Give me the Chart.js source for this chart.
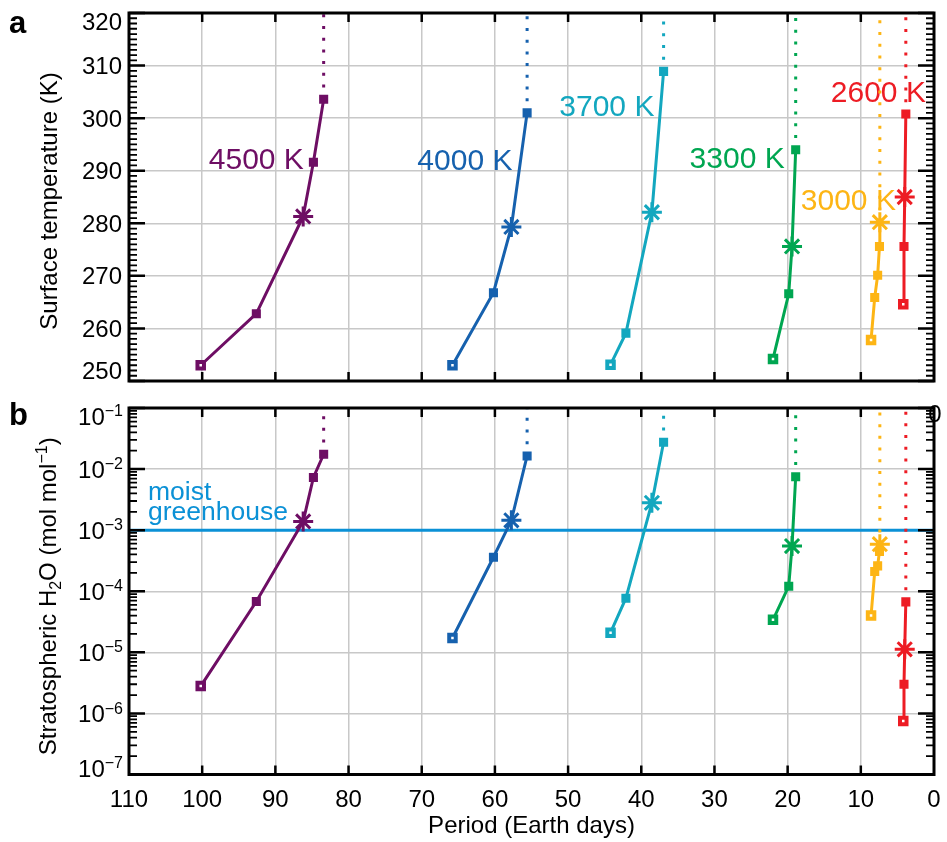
<!DOCTYPE html>
<html>
<head>
<meta charset="utf-8">
<title>Surface temperature and stratospheric H2O vs period</title>
<script src="https://cdn.jsdelivr.net/npm/chart.js@4.4.0/dist/chart.umd.min.js"></script>
<style>
  html, body { margin: 0; padding: 0; background: #ffffff; }
  #wrap { position: relative; width: 947px; height: 842px; }
  .panel { position: absolute; left: 0; width: 947px; }
  #panelA { top: 0; height: 395px; }
  #panelB { top: 395px; height: 447px; }
</style>
</head>
<body>
<div id="wrap">
  <div class="panel" id="panelA"><canvas id="tempChart"></canvas></div>
  <div class="panel" id="panelB"><canvas id="h2oChart"></canvas></div>
</div>
<script>
// ---- data ----
const periodTicks = [110, 100, 90, 80, 70, 60, 50, 40, 30, 20, 10, 0];
const tempTicks = [250, 260, 270, 280, 290, 300, 310, 320];
const h2oExponents = [-7, -6, -5, -4, -3, -2, -1];

// period in Earth days, surface temperature in K, stratospheric H2O in mol/mol
const period4500 = [100.2, 92.6, 86.2, 84.8, 83.4];
const tsurf4500 = [253.0, 262.8, 281.3, 291.6, 303.6];
const h2o4500 = [2.8e-6, 6.8e-5, 1.39e-3, 7.3e-3, 1.75e-2];

const period4000 = [65.8, 60.2, 57.75, 55.6];
const tsurf4000 = [253.0, 266.8, 279.3, 301.0];
const h2o4000 = [1.72e-5, 3.6e-4, 1.45e-3, 1.64e-2];

const period3700 = [44.2, 42.1, 38.55, 36.95];
const tsurf3700 = [253.1, 259.1, 282.1, 308.9];
const h2o3700 = [2.1e-5, 7.7e-5, 2.8e-3, 2.75e-2];

const period3300 = [22.0, 19.85, 19.4, 18.9];
const tsurf3300 = [254.2, 266.6, 275.6, 294.0];
const h2o3300 = [3.4e-5, 1.21e-4, 5.5e-4, 7.5e-3];

const period3000 = [8.6, 8.1, 7.7, 7.45, 7.4];
const tsurf3000 = [257.8, 265.9, 270.1, 275.6, 280.2];
const h2o3000 = [4.0e-5, 2.1e-4, 2.6e-4, 4.5e-4, 5.9e-4];

const period2600 = [4.2, 4.1, 4.0, 3.85];
const tsurf2600 = [264.6, 275.6, 285.0, 300.8];
const h2o2600 = [7.5e-7, 3.0e-6, 1.12e-5, 6.7e-5];

const starNames = ['4500 K', '4000 K', '3700 K', '3300 K', '3000 K', '2600 K'];
const starColors = ['#6e0e64', '#1661ae', '#13a7bf', '#00a651', '#fdb515', '#ed1c24'];
const asteriskIndex = [2, 2, 2, 2, 4, 2];

// where the star-temperature labels sit (period, surface temperature of baseline)
const labelPeriod = [99.1, 70.6, 51.2, 33.4, 18.2, 14.1];
const labelTsurf = [290.4, 290.2, 300.5, 290.6, 282.6, 303.1];

const moistThreshold = 1e-3;
const moistColor = '#0b91d6';

const series = [
  { period: period4500, tsurf: tsurf4500, h2o: h2o4500 },
  { period: period4000, tsurf: tsurf4000, h2o: h2o4000 },
  { period: period3700, tsurf: tsurf3700, h2o: h2o3700 },
  { period: period3300, tsurf: tsurf3300, h2o: h2o3300 },
  { period: period3000, tsurf: tsurf3000, h2o: h2o3000 },
  { period: period2600, tsurf: tsurf2600, h2o: h2o2600 },
].map((s, i) => ({ ...s, name: starNames[i], color: starColors[i], star: asteriskIndex[i] }));

const FONT = "'Liberation Sans', Arial, Helvetica, sans-serif";
const GRID = { color: '#c8c8c8', lineWidth: 1.5, drawTicks: false };

/**
 * Solid line + markers for each star, then a dotted line from the last point to the top
 */
function buildDatasets(key, yTop) {
  const sets = [];
  series.forEach(s => {
    const pts = s.period.map((p, i) => ({ x: p, y: s[key][i] }));
    const last = pts[pts.length - 1];
    sets.push({
      data: pts,
      borderColor: s.color,
      backgroundColor: s.color,
      borderWidth: 3,
      pointStyle: pts.map((_, i) => (i === s.star ? 'star' : 'rect')),
      pointRadius: pts.map((_, i) => (i === s.star ? 10 : i === 0 ? 4.6 : 5)),
      pointBorderWidth: pts.map((_, i) => (i === s.star ? 3 : i === 0 ? 4 : 2)),
      pointBackgroundColor: pts.map((_, i) => (i === 0 ? '#ffffff' : s.color)),
      pointBorderColor: s.color,
      order: 1,
    });
    sets.push({
      data: [last, { x: last.x, y: yTop }],
      borderColor: s.color,
      borderWidth: 3,
      borderDash: [3, 8.7],
      borderCapStyle: 'butt',
      pointRadius: 0,
      order: 2,
    });
  });
  return sets;
}

function xScale(hideHeight) {
  return {
    type: 'linear', min: 0, max: 110, reverse: true,
    ticks: { display: false, stepSize: 10 },
    grid: GRID,
    border: { display: false },
    afterFit: s => { s.height = hideHeight; },
  };
}

function drawFrame(chart, majorY, minorY) {
  const { ctx, chartArea: a, scales: { x, y } } = chart;
  ctx.save();
  ctx.strokeStyle = '#000';
  ctx.lineCap = 'butt';
  ctx.lineWidth = 2.5;
  ctx.beginPath();
  periodTicks.forEach(v => {
    if (v <= 0 || v >= 110) return;
    const px = x.getPixelForValue(v);
    ctx.moveTo(px, a.top); ctx.lineTo(px, a.top + 9);
    ctx.moveTo(px, a.bottom); ctx.lineTo(px, a.bottom - 9);
  });
  majorY.forEach(v => {
    const py = y.getPixelForValue(v);
    ctx.moveTo(a.left, py); ctx.lineTo(a.left + 16, py);
    ctx.moveTo(a.right, py); ctx.lineTo(a.right - 16, py);
  });
  ctx.stroke();
  ctx.lineWidth = 1.8;
  ctx.beginPath();
  minorY.forEach(v => {
    const py = y.getPixelForValue(v);
    ctx.moveTo(a.left, py); ctx.lineTo(a.left + 8, py);
    ctx.moveTo(a.right, py); ctx.lineTo(a.right - 8, py);
  });
  ctx.stroke();
  ctx.lineWidth = 3;
  ctx.strokeRect(a.left, a.top, a.right - a.left, a.bottom - a.top);
  ctx.restore();
}

// ---- panel a: surface temperature ----
const tempMinor = [];
for (let t = 251; t < 320; t++) if (t % 10 !== 0) tempMinor.push(t);

const tempPlugin = {
  id: 'tempDecor',
  beforeDatasetsDraw(chart) {
    const { ctx, scales: { x, y } } = chart;
    ctx.save();
    ctx.font = '30px ' + FONT;
    ctx.textAlign = 'left';
    ctx.textBaseline = 'alphabetic';
    series.forEach((s, i) => {
      ctx.fillStyle = s.color;
      ctx.fillText(s.name, x.getPixelForValue(labelPeriod[i]), y.getPixelForValue(labelTsurf[i]));
    });
    ctx.restore();
  },
  afterDatasetsDraw(chart) {
    drawFrame(chart, tempTicks, tempMinor);
  },
  afterDraw(chart) {
    const { ctx, chartArea: a, scales: { y } } = chart;
    ctx.save();
    ctx.fillStyle = '#000';
    ctx.font = '24px ' + FONT;
    ctx.textAlign = 'right';
    ctx.textBaseline = 'alphabetic';
    tempTicks.forEach(v => {
      const cy = Math.min(Math.max(y.getPixelForValue(v), a.top + 8), a.bottom - 11);
      ctx.fillText(String(v), a.left - 7, cy + 8.6);
    });
    // axis title
    ctx.save();
    ctx.translate(56.5, (a.top + a.bottom) / 2 + 4);
    ctx.rotate(-Math.PI / 2);
    ctx.textAlign = 'center';
    ctx.fillText('Surface temperature (K)', 0, 0);
    ctx.restore();
    // panel letter
    ctx.font = 'bold 31px ' + FONT;
    ctx.textAlign = 'left';
    ctx.fillText('a', 9, 33);
    ctx.restore();
  },
};

new Chart(document.getElementById('tempChart'), {
  type: 'line',
  data: { datasets: buildDatasets('tsurf', 320) },
  options: {
    responsive: true,
    maintainAspectRatio: false,
    animation: false,
    devicePixelRatio: 1,
    layout: { padding: { top: 6.5, right: 10, bottom: 14, left: 0 } },
    plugins: { legend: { display: false }, tooltip: { enabled: false } },
    scales: {
      x: xScale(0),
      y: {
        type: 'linear', min: 250, max: 320,
        ticks: { display: false, stepSize: 10 },
        grid: GRID,
        border: { display: false },
        afterFit: s => { s.width = 129; },
      },
    },
  },
  plugins: [tempPlugin],
});

// ---- panel b: stratospheric water vapour ----
const h2oMajor = h2oExponents.map(e => Math.pow(10, e));
const h2oMinor = [];
h2oExponents.slice(0, -1).forEach(e => {
  for (let m = 2; m <= 9; m++) h2oMinor.push(m * Math.pow(10, e));
});

function richWidth(ctx, parts) {
  let w = 0;
  parts.forEach(p => { ctx.font = p.size + 'px ' + FONT; w += ctx.measureText(p.t).width; });
  return w;
}
function drawRich(ctx, parts, x0, y0) {
  let x = x0;
  parts.forEach(p => {
    ctx.font = p.size + 'px ' + FONT;
    ctx.fillText(p.t, x, y0 + (p.dy || 0));
    x += ctx.measureText(p.t).width;
  });
}

const h2oPlugin = {
  id: 'h2oDecor',
  beforeDatasetsDraw(chart) {
    const { ctx, scales: { x, y } } = chart;
    ctx.save();
    ctx.fillStyle = moistColor;
    ctx.font = '26.5px ' + FONT;
    ctx.textAlign = 'left';
    ctx.fillText('moist', x.getPixelForValue(107.4), y.getPixelForValue(3.13e-3));
    ctx.fillText('greenhouse', x.getPixelForValue(107.4), y.getPixelForValue(1.44e-3));
    ctx.restore();
  },
  afterDatasetsDraw(chart) {
    drawFrame(chart, h2oMajor, h2oMinor);
  },
  afterDraw(chart) {
    const { ctx, chartArea: a, scales: { x, y } } = chart;
    ctx.save();
    ctx.fillStyle = '#000';
    ctx.textBaseline = 'alphabetic';
    // log tick labels 10^n
    h2oExponents.forEach((e, i) => {
      const cy = Math.min(Math.max(y.getPixelForValue(h2oMajor[i]), a.top + 8), a.bottom - 6.5);
      const base = cy + 8.6;
      ctx.textAlign = 'right';
      ctx.font = '16px ' + FONT;
      const sup = '\u2212' + Math.abs(e);
      const supW = ctx.measureText(sup).width;
      ctx.fillText(sup, a.left - 6, base - 8.5);
      ctx.font = '24px ' + FONT;
      ctx.fillText('10', a.left - 6 - supW, base);
    });
    // period tick labels
    ctx.font = '24px ' + FONT;
    ctx.textAlign = 'center';
    periodTicks.forEach(v => {
      ctx.fillText(String(v), x.getPixelForValue(v), a.bottom + 32);
    });
    ctx.fillText('Period (Earth days)', (a.left + a.right) / 2, a.bottom + 58.5);
    // stray label at the top-right corner
    ctx.fillText('0', a.right + 1, a.top + 14);
    // y title with subscript and superscript
    const parts = [
      { t: 'Stratospheric H', size: 24 },
      { t: '2', size: 16, dy: 5 },
      { t: 'O (mol mol', size: 24 },
      { t: '\u22121', size: 16, dy: -9 },
      { t: ')', size: 24 },
    ];
    const w = richWidth(ctx, parts);
    ctx.save();
    ctx.translate(55.5, (a.top + a.bottom) / 2 + 5);
    ctx.rotate(-Math.PI / 2);
    ctx.textAlign = 'left';
    drawRich(ctx, parts, -w / 2, 0);
    ctx.restore();
    // panel letter
    ctx.font = 'bold 31px ' + FONT;
    ctx.textAlign = 'left';
    ctx.fillText('b', 9, 30);
    ctx.restore();
  },
};

const h2oDatasets = buildDatasets('h2o', 1e-1);
h2oDatasets.push({
  data: [{ x: 110, y: moistThreshold }, { x: 0, y: moistThreshold }],
  borderColor: moistColor,
  borderWidth: 3,
  pointRadius: 0,
  order: 5,
});

new Chart(document.getElementById('h2oChart'), {
  type: 'line',
  data: { datasets: h2oDatasets },
  options: {
    responsive: true,
    maintainAspectRatio: false,
    animation: false,
    devicePixelRatio: 1,
    layout: { padding: { top: 4, right: 10, bottom: 0, left: 0 } },
    plugins: { legend: { display: false }, tooltip: { enabled: false } },
    scales: {
      x: xScale(67.5),
      y: {
        type: 'logarithmic', min: 1e-7, max: 1e-1,
        afterBuildTicks: s => { s.ticks = h2oMajor.map(v => ({ value: v })); },
        ticks: { display: false },
        grid: GRID,
        border: { display: false },
        afterFit: s => { s.width = 129; },
      },
    },
  },
  plugins: [h2oPlugin],
});
</script>
</body>
</html>
